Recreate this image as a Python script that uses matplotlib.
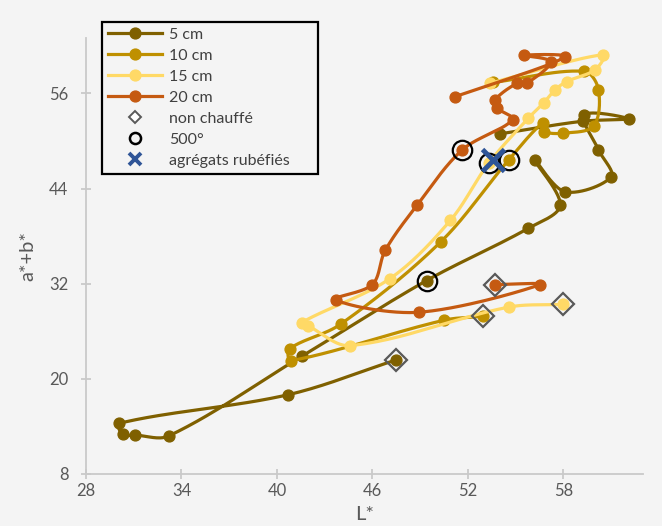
import numpy as np
import matplotlib
matplotlib.use("Agg")
import matplotlib.pyplot as plt
from matplotlib.lines import Line2D

plt.rcParams['font.family'] = ['Lato', 'DejaVu Sans']

# ---- data (L*, a*+b*) ----
series_names = ["5 cm", "10 cm", "15 cm", "20 cm"]
L_5 = [47.5, 40.7, 30.1, 30.3, 31.1, 33.2, 41.6, 49.4, 55.8, 57.8, 56.2, 58.1, 61.0, 60.2, 59.3, 62.1, 59.2, 54.0]
ab_5 = [22.4, 18.0, 14.4, 13.0, 12.9, 12.8, 22.9, 32.4, 39.0, 41.9, 47.6, 43.6, 45.5, 48.9, 53.3, 52.8, 52.5, 50.9]
L_10 = [52.95, 50.5, 40.9, 40.8, 44.0, 50.3, 54.55, 56.7, 56.8, 58.0, 59.9, 60.2, 59.3, 53.6]
ab_10 = [27.9, 27.4, 22.3, 23.8, 26.9, 37.3, 47.6, 52.3, 51.2, 51.0, 51.9, 56.5, 58.8, 57.4]
L_15 = [57.95, 54.55, 44.6, 41.95, 41.55, 47.1, 50.9, 53.3, 55.8, 56.75, 57.5, 58.2, 60.0, 60.5, 53.4]
ab_15 = [29.4, 29.05, 24.2, 26.7, 27.1, 32.65, 40.0, 47.2, 52.9, 54.8, 56.5, 57.5, 59.0, 60.9, 57.3]
L_20 = [53.7, 56.55, 48.9, 43.7, 46.0, 46.8, 48.8, 51.65, 54.8, 53.8, 53.7, 55.1, 55.7, 57.2, 55.5, 58.1, 51.2]
ab_20 = [31.9, 31.9, 28.4, 30.0, 31.9, 36.2, 41.9, 48.9, 52.7, 54.2, 55.2, 57.3, 57.3, 60.0, 60.8, 60.6, 55.6]
# index of the "500°" sample in each series (the first point is "non chauffé")
idx_500 = [7, 6, 7, 7]
agregats_L = [53.6]
agregats_ab = [47.6]

colors = ["#7F6000", "#BF9000", "#FFD966", "#C55A11"]
xticks = [28, 34, 40, 46, 52, 58]
yticks = [8, 20, 32, 44, 56]
bg = "#f4f4f4"

XLIM = (28, 63)
YLIM = (8, 63)
SX = 557 / (XLIM[1] - XLIM[0])   # px per unit, for distance weighting only
SY = 436 / (YLIM[1] - YLIM[0])


def smooth(x, y, n=30):
    P = np.column_stack([x, y]).astype(float)
    D = P * np.array([SX, SY])
    m = len(P)
    out = [P[0]]
    t = np.linspace(0, 1, n)[1:, None]

    def dist(a, b):
        return np.hypot(*(D[a] - D[b]))

    for i in range(m - 1):
        i0 = i - 1 if i > 0 else i
        i3 = i + 2 if i + 2 < m else i + 1
        p1, p2 = P[i], P[i + 1]
        d12 = dist(i, i + 1)
        d01 = dist(i0, i)
        d23 = dist(i + 1, i3)
        r1 = d12 / (d01 + d12) if d01 + d12 > 0 else 0.5
        r2 = d12 / (d12 + d23) if d12 + d23 > 0 else 0.5
        c1 = p1 + (P[i + 1] - P[i0]) * r1 / 3.0
        c2 = p2 - (P[i3] - P[i]) * r2 / 3.0
        b = (1 - t) ** 3 * p1 + 3 * (1 - t) ** 2 * t * c1 + 3 * (1 - t) * t ** 2 * c2 + t ** 3 * p2
        out.extend(b)
    out = np.array(out)
    return out[:, 0], out[:, 1]


fig = plt.figure(figsize=(6.62, 5.26), dpi=100, facecolor=bg)
ax = fig.add_axes([86 / 662, 1 - 474 / 526, (643 - 86) / 662, (474 - 38) / 526])
ax.set_facecolor(bg)

data = [(L_5, ab_5), (L_10, ab_10), (L_15, ab_15), (L_20, ab_20)]
for k, ((xs, ys), c) in enumerate(zip(data, colors)):
    sx, sy = smooth(xs, ys)
    ax.plot(sx, sy, color=c, lw=2.3, solid_capstyle='round', zorder=2 + k * 0.1)
    ax.plot(xs, ys, 'o', color=c, ms=7.8, mec=c, zorder=2.05 + k * 0.1)

# non chauffé diamonds (first point of each series)
ax.plot([d[0][0] for d in data], [d[1][0] for d in data], 'D', ms=11, mfc='none',
        mec='#595959', mew=1.6, zorder=5)
# 500° circles
ax.plot([d[0][i] for d, i in zip(data, idx_500)], [d[1][i] for d, i in zip(data, idx_500)],
        'o', ms=14, mfc='none', mec='black', mew=1.6, zorder=5)
# agrégats rubéfiés
ax.plot(agregats_L, agregats_ab, 'x', ms=16, mew=3.5, color='#2F5597', zorder=6)

ax.set_xlim(*XLIM)
ax.set_ylim(*YLIM)
ax.set_xticks(xticks)
ax.set_yticks(yticks)
for s in ['top', 'right']:
    ax.spines[s].set_visible(False)
for s in ['left', 'bottom']:
    ax.spines[s].set_color('#c9c9c9')
    ax.spines[s].set_linewidth(1.3)
ax.tick_params(direction='inout', length=7.2, width=1.3, color='#c9c9c9',
               labelcolor='#595959', labelsize=12)
ax.tick_params(axis='y', pad=9)
ax.tick_params(axis='x', pad=3)
ax.set_xlabel("L*", fontsize=14.5, color='#595959', labelpad=5)
ax.set_ylabel("a*+b*", fontsize=14.5, color='#595959', labelpad=9)

handles = [Line2D([], [], color=c, lw=2.3, marker='o', ms=7.8) for c in colors]
handles += [
    Line2D([], [], ls='none', marker='D', ms=6, mfc='white', mec='#595959', mew=1.4),
    Line2D([], [], ls='none', marker='o', ms=8, mfc='none', mec='black', mew=1.8),
    Line2D([], [], ls='none', marker='x', ms=8, mew=2.8, color='#2F5597'),
]
labels = series_names + ["non chauffé", "500°", "agrégats rubéfiés"]
leg = fig.legend(handles, labels, loc='upper left',
                 bbox_to_anchor=(102 / 662, 1 - 183 / 526, 216 / 662, 161 / 526), mode='expand',
                 frameon=True, fancybox=False, edgecolor='black', facecolor=bg, framealpha=1,
                 fontsize=11.5, handlelength=3.4, labelspacing=0.43, borderpad=0.35,
                 handletextpad=0.45, borderaxespad=0)
leg.get_frame().set_linewidth(1.6)
for t in leg.get_texts():
    t.set_color('#404040')

fig.savefig("out.png", dpi=100, facecolor=bg)
